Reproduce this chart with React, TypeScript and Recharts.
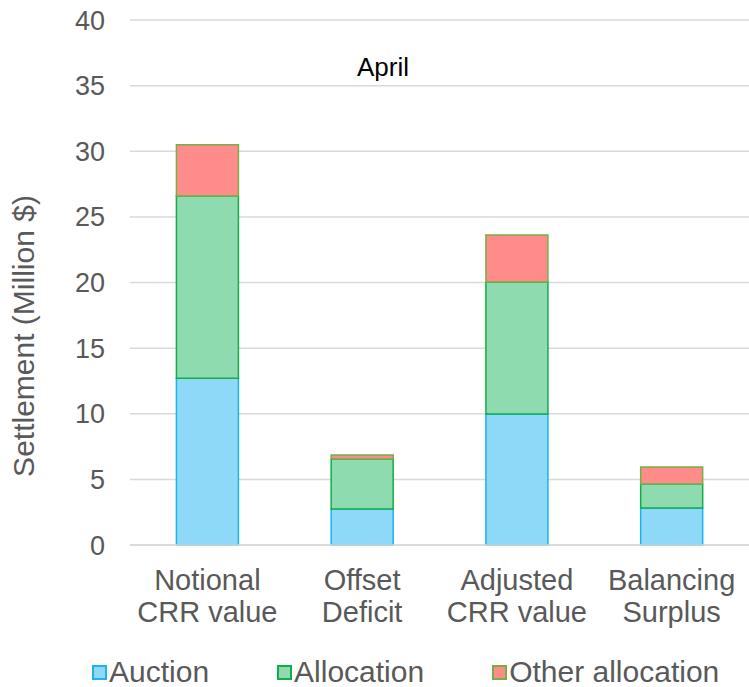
import { BarChart, Bar, XAxis, YAxis, CartesianGrid, Legend, Customized } from 'recharts';

const categories = ['Notional CRR value', 'Offset Deficit', 'Adjusted CRR value', 'Balancing Surplus'];
const categoryLines = [['Notional', 'CRR value'], ['Offset', 'Deficit'], ['Adjusted', 'CRR value'], ['Balancing', 'Surplus']];
const auction = [12.7, 2.75, 9.98, 2.82];
const allocation = [13.9, 3.8, 10.06, 1.83];
const otherAllocation = [3.9, 0.31, 3.58, 1.29];
const yTicks = [0, 5, 10, 15, 20, 25, 30, 35, 40];

const data = categories.map((name, i) => ({
    name,
    auction: auction[i],
    allocation: allocation[i],
    other: otherAllocation[i],
}));

const series = [
    { key: 'auction', label: 'Auction', fill: '#8ED8F8', stroke: '#1DB3EE' },
    { key: 'allocation', label: 'Allocation', fill: '#8EDBB0', stroke: '#12AD4B' },
    { key: 'other', label: 'Other allocation', fill: '#FF8B8B', stroke: '#76B043' },
];

const FONT = '"Liberation Sans", Arial, sans-serif';
const GREY = '#595959';

function XTick(props: any) {
    const { x, y, index } = props;
    const lines = categoryLines[index] || [];
    return (
        <text x={x} y={y} textAnchor="middle" fill={GREY} fontSize={29} fontFamily={FONT}>
            {lines.map((l, i) => (
                <tspan key={i} x={x} dy={i === 0 ? 37 : 32}>{l}</tspan>
            ))}
        </text>
    );
}

function LegendContent() {
    return (
        <div style={{ display: 'flex', gap: 68, fontFamily: FONT, fontSize: 30, color: GREY, lineHeight: '40px', paddingLeft: 92 }}>
            {series.map((s) => (
                <div key={s.key} style={{ display: 'flex', alignItems: 'center' }}>
                    <span style={{ width: 11, height: 11, background: s.fill, border: `2px solid ${s.stroke}`, marginRight: 2 }} />
                    <span>{s.label}</span>
                </div>
            ))}
        </div>
    );
}

export default function App() {
    return (
        <div style={{ position: 'absolute', left: 0, top: 0, width: 749, height: 687, background: '#fff' }}>
            <BarChart
                width={749}
                height={687}
                data={data}
                margin={{ top: 20, right: 0, left: 0, bottom: 0 }}
                barCategoryGap="30%"
            >
                <CartesianGrid vertical={false} stroke="#D9D9D9" strokeWidth={1.5} />
                <XAxis
                    dataKey="name"
                    axisLine={{ stroke: '#D9D9D9', strokeWidth: 1.5 }}
                    tickLine={false}
                    tick={<XTick />}
                    height={102}
                    interval={0}
                />
                <YAxis
                    domain={[0, 40]}
                    ticks={yTicks}
                    width={130}
                    axisLine={false}
                    tickLine={false}
                    tickSize={0}
                    tickMargin={25}
                    tick={{ fill: GREY, fontSize: 27, fontFamily: FONT }}
                />
                <Legend
                    content={<LegendContent />}
                    verticalAlign="bottom"
                    wrapperStyle={{ top: 652, left: 0, width: 749, height: 40 }}
                />
                {series.map((s) => (
                    <Bar
                        key={s.key}
                        dataKey={s.key}
                        stackId="a"
                        fill={s.fill}
                        stroke={s.stroke}
                        strokeWidth={1.5}
                        isAnimationActive={false}
                    />
                ))}
                <Customized
                    component={() => (
                        <g>
                            <text x={383} y={76} textAnchor="middle" fontSize={26} fontFamily={FONT} fill="#000">
                                April
                            </text>
                            <text
                                transform="translate(23, 336) rotate(-90)"
                                textAnchor="middle"
                                dominantBaseline="central"
                                fontSize={30}
                                fontFamily={FONT}
                                fill={GREY}
                            >
                                Settlement (Million $)
                            </text>
                        </g>
                    )}
                />
            </BarChart>
        </div>
    );
}
